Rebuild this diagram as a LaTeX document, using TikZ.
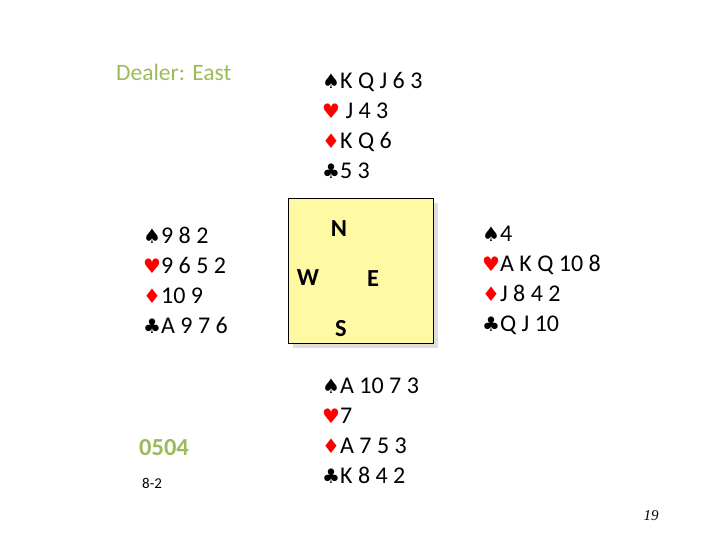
\documentclass[tikz,border=0pt]{standalone}
\usepackage{fontspec}
\setmainfont{Carlito}
\newfontfamily\suitfont{DejaVu Sans}
\newfontfamily\pagefont{Liberation Serif}
\usetikzlibrary{shadows}

\definecolor{dealergreen}{RGB}{155,187,89}
\definecolor{boardyellow}{RGB}{255,249,163}

\newcommand{\spd}{{\suitfont\fontsize{20}{20}\selectfont ♠}}
\newcommand{\hrt}{{\suitfont\fontsize{20}{20}\selectfont\color{red}♥}}
\newcommand{\dmd}{{\suitfont\fontsize{20}{20}\selectfont\color{red}♦}}
\newcommand{\clb}{{\suitfont\fontsize{20}{20}\selectfont ♣}}

\begin{document}
\begin{tikzpicture}[
			 x=1pt, y=-1pt,
			 every node/.style={inner sep=0pt},
			 hand/.style={anchor=west, align=left, font=\fontsize{24}{30}\selectfont},
			 seat/.style={font=\fontsize{24.5}{24.5}\selectfont\bfseries},
			 board/.style={draw, semithick, fill=boardyellow, minimum width=145pt, minimum height=145pt,
			   drop shadow={shadow xshift=5pt, shadow yshift=-5pt, fill=black!13, opacity=1}},
			 note/.style={anchor=west, text=dealergreen}
			 ]

			 \useasboundingbox (0,0) rectangle (720,540);

			 % table in the middle
			 \node[board] (table) at (360.5,270.5) {};
			 \node[seat] (north) at (339,229) {N};
			 \node[seat] (west) at (308,278) {W};
			 \node[seat] (east) at (373,279) {E};
			 \node[seat] (south) at (341,329) {S};

			 % the four hands
			 \node[hand] (nhand) at (322,125) {\spd K Q J 6 3\\ \hrt\ J 4 3\\ \dmd K Q 6\\ \clb 5 3};
			 \node[hand] (whand) at (143,280) {\spd 9 8 2\\ \hrt 9 6 5 2\\ \dmd 10 9\\ \clb A 9 7 6};
			 \node[hand] (ehand) at (482,280) {\spd 4\\ \hrt A K Q 10 8\\ \dmd J 8 4 2\\ \clb Q J 10};
			 \node[hand] (shand) at (322,431) {\spd A 10 7 3\\ \hrt 7\\ \dmd A 7 5 3\\ \clb K 8 4 2};

			 % notes
			 \node[note, font=\fontsize{23.5}{23.5}\selectfont] (dealer) at (116,72) {Dealer: East};
			 \node[note, font=\fontsize{24.5}{24.5}\selectfont\bfseries] (deal) at (139,448) {0504};
			 \node[anchor=west, font=\fontsize{15}{15}\selectfont] (score) at (142,483) {8-2};
			 \node[font=\pagefont\itshape\fontsize{15}{15}\selectfont] (page) at (651,516) {19};

\end{tikzpicture}
\end{document}
